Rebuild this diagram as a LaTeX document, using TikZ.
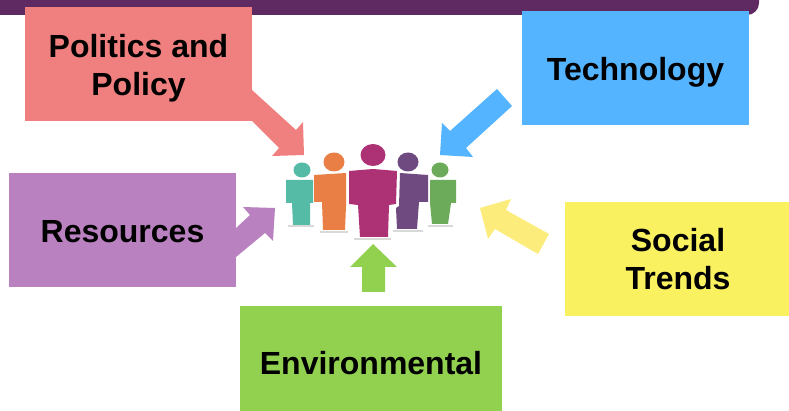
\documentclass[tikz,border=0pt]{standalone}
\usepackage{fontspec}
\setmainfont{Liberation Sans}
\definecolor{bannerc}{HTML}{5F2A62}
\definecolor{politicsc}{HTML}{F08080}
\definecolor{techc}{HTML}{54B4FF}
\definecolor{resourcec}{HTML}{B981C0}
\definecolor{socialc}{HTML}{F9F160}
\definecolor{socialarrowc}{HTML}{FBEC7C}
\definecolor{envc}{HTML}{92D050}
\definecolor{tealc}{HTML}{56BBA6}
\definecolor{orangec}{HTML}{E97F45}
\definecolor{magentac}{HTML}{AD3175}
\definecolor{violetc}{HTML}{6F4A80}
\definecolor{leafc}{HTML}{6CAB5A}
\newcommand{\dropped}[2]{\raisebox{-#1}[\height][\depth]{#2}}
\begin{document}
\begin{tikzpicture}[
    x=1pt, y=-1pt,
    box/.style={minimum width=227pt, minimum height=114pt, align=center, inner sep=0pt, outer sep=0pt,
                font=\fontsize{32}{38}\selectfont\bfseries},
    shadow/.style={black!15, line width=2pt}
]
    \useasboundingbox (0,0) rectangle (789,411);

    % Banner
    \fill[bannerc] (0,0) -- (759,0) [rounded corners=12pt] -- (759,15) [sharp corners] -- (0,15) -- cycle;

    % Block arrows
    \fill[politicsc] (250,90) -- (252,90) -- (296,130) -- (303,122) -- (304,155) -- (272,156) -- (279,148) -- (252,121) -- (250,121) -- cycle;
    \fill[techc] (497,89) -- (512,106) -- (466,148) -- (473,157) -- (440,155) -- (442,123) -- (450,131) -- cycle;
    \fill[resourcec] (234,228) -- (236,228) -- (250,215) -- (243,207) -- (275,208) -- (273,241) -- (265,233) -- (236,257) -- (234,257) -- cycle;
    \fill[socialarrowc] (549,234) -- (538,254) -- (495,229) -- (488,239) -- (480,208) -- (511,199) -- (506,210) -- cycle;
    \fill[envc] (373,244) -- (397,267) -- (385,267) -- (385,292) -- (362,292) -- (362,267) -- (350,267) -- cycle;

    % Five boxes
    \node[box, fill=politicsc] (politics) at (138.5,64) {\dropped{4pt}{Politics and}\\\dropped{4pt}{Policy}};
    \node[box, fill=techc] (tech) at (635.5,68) {\dropped{4pt}{Technology}};
    \node[box, fill=resourcec] (resources) at (122.5,230) {\dropped{2pt}{Resources}};
    \node[box, fill=socialc, minimum width=224pt] (social) at (677,259) {\hspace{2pt}Social\\\hspace{2pt}Trends};
    \node[box, fill=envc, minimum width=262pt, minimum height=105pt] (env) at (371,358.5) {\dropped{5pt}{Environmental}};

    % People
    \draw[shadow] (288,226.5) -- (314,226.5);
    \draw[shadow] (320,232) -- (348,232);
    \draw[shadow] (354,239) -- (391,239);
    \draw[shadow] (393,231) -- (423,231);
    \draw[shadow] (428,226) -- (453,226);

    \fill[tealc] (302,170) ellipse (8.5 and 7.5);
    \fill[tealc] (286,180) -- (313,180) -- (313,203) -- (310,203) -- (310,225) -- (293,225) -- (292,203) -- (286,203) -- cycle;
    \fill[leafc] (440,170) ellipse (8.5 and 7.5);
    \fill[leafc] (430,180) -- (456,180) -- (456,203) -- (451,203) -- (448,224) -- (432,224) -- (430,203) -- cycle;
    \fill[orangec] (334,162) ellipse (10.5 and 9.5);
    \fill[orangec] (314,175) -- (346,173) -- (346,206) -- (345,230) -- (323,230) -- (322,202) -- (314,202) -- cycle;
    \fill[violetc] (408,162) ellipse (10.5 and 9.5);
    \fill[violetc] (400,173) -- (428,175) -- (428,202) -- (419,202) -- (417,229) -- (397,229) -- (396,208) -- (399,206) -- cycle;
    \fill[magentac] (373,155) ellipse (12.5 and 11);
    \fill[magentac] (349,171) -- (373,169) -- (397,171) -- (396,204) -- (389,205) -- (388,237) -- (360,237) -- (358,205) -- (349,204) -- cycle;
\end{tikzpicture}
\end{document}
